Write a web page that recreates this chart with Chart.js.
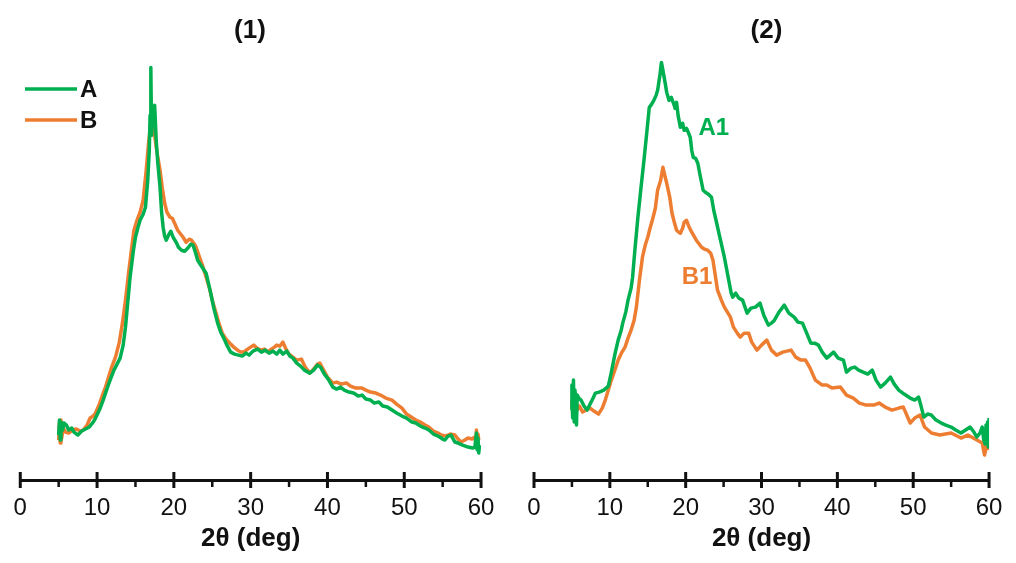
<!DOCTYPE html>
<html><head><meta charset="utf-8">
<script src="https://cdn.jsdelivr.net/npm/chart.js@4/dist/chart.umd.min.js"></script>
<style>
html,body{margin:0;padding:0;background:#fff;}
#wrap{position:relative;width:1016px;height:563px;overflow:hidden;}
canvas{position:absolute;top:0;}
#c1{left:0}#c2{left:508px}
</style></head><body>
<div id="wrap"><canvas id="c1" width="508" height="563"></canvas><canvas id="c2" width="508" height="563"></canvas></div>
<script>
const panelTitles = ['(1)', '(2)'];
const xAxisTitle = '2θ (deg)';
const majorTicks = [0, 10, 20, 30, 40, 50, 60];
const minorTicks = [5, 15, 25, 35, 45, 55];
const seriesNames1 = ['A', 'B'];
const seriesNames2 = ['A1', 'B1'];

// Panel (1) series A
const xA1 = [5.0,5.1,5.2,5.3,5.5,5.7,6.0,6.3,6.7,7.0,7.5,8.0,8.5,9.0,9.5,9.8,10.3,10.8,11.1,11.5,11.9,12.2,12.6,13.0,13.4,13.7,14.0,14.3,14.7,15.0,15.3,15.6,16.0,16.3,16.6,16.8,16.9,17.0,17.1,17.2,17.4,17.5,17.7,17.9,18.2,18.4,18.6,18.8,19.0,19.3,19.6,19.9,20.3,20.6,21.0,21.4,21.8,22.2,22.5,22.8,23.1,23.6,24.2,24.5,24.8,25.2,25.7,26.1,26.5,26.9,27.4,27.9,28.4,28.9,29.4,29.8,30.3,30.9,31.4,31.9,32.4,32.9,33.4,33.8,34.2,34.7,35.1,35.5,36.0,36.5,37.0,37.7,38.2,38.7,39.1,39.6,40.1,40.7,41.2,41.7,42.2,42.8,43.4,44.0,44.5,45.0,45.6,46.1,46.7,47.2,47.8,48.4,49.0,49.7,50.3,51.0,51.5,52.1,52.7,53.2,53.8,54.4,55.0,55.3,55.7,56.1,56.6,57.0,57.6,58.3,58.9,59.2,59.4,59.5,59.6,59.7,59.8];
const yA1 = [45,60,40,58,50,57,55,50,52,48,45,49,51,53,58,62,70,80,87,96,104,110,116,122,135,153,178,203,228,243,252,260,266,273,300,330,365,413,345,360,372,375,340,318,293,268,253,244,240,245,249,243,238,233,230,229,232,236,235,228,220,214,207,197,187,172,157,148,142,135,128,126,125,124,127,125,129,131,128,130,127,129,126,130,126,129,124,122,117,114,110,107,110,115,113,106,101,93,91,93,90,88,87,84,85,81,80,77,78,74,73,70,67,64,62,58,57,54,52,50,46,44,41,40,44,45,38,37,35,33,32,33,47,30,42,27,35];
// Panel (1) series B
const xB1 = [5.0,5.1,5.2,5.3,5.4,5.6,5.9,6.3,6.8,7.3,7.8,8.2,8.7,9.1,9.5,9.8,10.3,10.8,11.1,11.5,11.9,12.4,12.9,13.3,13.7,14.1,14.5,14.8,15.2,15.6,16.0,16.4,16.7,17.0,17.1,17.3,17.5,17.8,18.2,18.5,18.8,19.1,19.5,19.8,20.1,20.5,20.8,21.2,21.6,22.0,22.3,22.6,22.9,23.3,23.8,24.2,24.6,25.0,25.5,25.9,26.3,26.8,27.4,27.8,28.3,28.7,29.1,29.6,30.0,30.4,30.8,31.3,31.8,32.2,32.7,33.1,33.4,33.8,34.2,34.6,35.0,35.5,36.0,36.6,37.1,37.7,38.3,38.7,39.0,39.5,40.0,40.7,41.2,41.8,42.5,43.0,43.7,44.5,45.0,45.6,46.3,46.9,47.6,48.4,49.0,49.7,50.3,50.9,51.5,52.1,52.7,53.2,53.8,54.4,54.8,55.4,56.0,56.6,57.0,57.4,57.9,58.3,58.8,59.2,59.3,59.4,59.5,59.6,59.7];
const yB1 = [40,57,37,60,42,52,48,47,50,51,49,50,55,62,64,67,76,87,93,103,113,123,138,157,180,207,232,250,260,268,280,310,337,357,358,355,345,328,310,292,277,268,263,262,257,250,247,243,238,241,240,237,233,224,213,203,193,180,167,156,147,141,136,133,130,128,128,131,133,135,132,130,131,128,131,133,135,134,138,131,126,123,120,121,113,107,112,116,117,110,103,97,98,96,97,94,92,92,90,88,87,85,82,80,76,72,66,63,60,58,55,53,49,47,45,44,46,45,41,38,40,42,41,43,38,50,36,46,40];
// Panel (2) series A1
const xA2 = [4.9,5.0,5.1,5.2,5.3,5.4,5.5,5.6,5.7,5.9,6.2,6.6,7.0,7.4,7.8,8.1,8.6,9.2,9.5,9.8,10.2,10.7,11.1,11.5,11.7,12.1,12.4,12.8,13.0,13.3,13.7,14.1,14.5,14.9,15.2,15.5,15.8,16.1,16.3,16.6,16.8,17.0,17.3,17.5,17.8,18.1,18.4,18.6,18.8,19.0,19.3,19.6,19.8,20.1,20.4,20.6,20.8,21.0,21.3,21.6,21.9,22.3,22.6,23.0,23.4,23.7,24.0,24.5,25.1,25.6,26.0,26.2,26.6,27.0,27.5,28.1,28.6,29.2,29.8,30.3,30.9,31.3,31.7,32.3,33.0,33.6,34.3,34.8,35.4,35.9,36.5,37.0,37.5,38.0,38.6,39.5,40.1,40.8,41.2,41.8,42.3,42.8,43.4,44.0,44.6,45.1,45.7,46.3,47.0,47.5,48.1,48.8,49.6,50.2,50.7,51.0,51.4,51.9,52.4,53.0,53.7,54.3,55.0,55.6,56.3,56.9,57.5,58.0,58.4,58.8,59.1,59.3,59.5,59.6,59.7,59.8,59.9,60.0];
const yA2 = [70,95,62,100,58,90,80,55,85,82,80,74,70,76,82,87,88,90,92,94,108,127,140,150,157,168,180,192,203,230,263,292,320,350,373,376,380,385,390,405,418,410,397,388,380,383,377,372,378,365,353,357,350,352,347,343,330,323,322,317,305,290,288,286,283,270,260,243,223,203,187,183,187,182,180,167,172,173,177,165,155,157,160,168,175,167,163,158,157,148,137,137,135,128,122,128,122,120,108,112,113,110,108,106,110,100,93,97,103,96,90,86,82,80,83,75,63,66,65,60,57,55,53,50,47,50,53,48,43,47,53,40,36,55,38,58,33,62];
// Panel (2) series B1
const xB2 = [4.9,5.0,5.1,5.3,5.4,5.5,5.7,6.0,6.4,6.9,7.4,7.9,8.5,9.0,9.4,9.8,10.2,10.7,11.1,11.6,12.0,12.4,12.8,13.2,13.5,13.9,14.3,14.7,15.0,15.3,15.6,16.0,16.3,16.7,17.0,17.3,17.5,17.9,18.2,18.5,18.8,19.1,19.3,19.6,19.8,20.1,20.4,20.8,21.1,21.4,21.8,22.1,22.5,22.9,23.3,23.6,23.9,24.2,24.7,25.1,25.5,25.9,26.3,26.8,27.2,27.7,28.3,28.7,29.4,30.0,30.7,31.3,32.0,32.8,33.9,34.5,35.2,35.8,36.4,37.1,38.0,38.6,39.3,40.4,41.2,42.1,42.9,43.8,44.8,45.5,46.3,47.2,48.1,48.7,49.6,50.2,50.9,51.5,52.4,53.5,55.0,56.3,57.2,58.4,59.1,59.4,59.6,59.8,60.0];
const yB2 = [73,80,66,87,68,82,70,74,68,70,72,69,66,72,80,90,100,111,120,128,133,142,150,160,173,200,223,236,243,252,260,272,290,300,313,303,297,283,267,258,250,248,247,252,258,260,254,248,244,240,236,233,231,230,227,220,205,190,180,173,168,163,153,147,143,147,147,138,130,135,140,130,125,128,130,123,120,120,112,100,95,95,92,93,85,82,77,75,75,77,73,70,72,73,57,62,65,53,47,45,47,42,45,40,37,25,32,38,30];

const GREEN = '#00B050';
const ORANGE = '#ED7D31';
const FONT = '"Liberation Sans", Arial, Helvetica, sans-serif';

// anchors (data space) for the in-plot series labels of panel (2)
const labelAnchors2 = [
  { text: seriesNames2[0], x: 23.7, y: 352, color: GREEN },
  { text: seriesNames2[1], x: 21.5, y: 203, color: ORANGE }
];

function pts(xs, ys) { return xs.map((x, i) => ({ x: x, y: ys[i] })); }

const tickPlugin = {
  id: 'axisTicks',
  afterDraw(chart) {
    const sc = chart.scales.x;
    const ctx = chart.ctx;
    const y0 = sc.top;
    ctx.save();
    ctx.strokeStyle = '#111';
    ctx.lineCap = 'butt';
    majorTicks.forEach(v => {
      const px = sc.getPixelForValue(v);
      ctx.lineWidth = 3;
      ctx.beginPath(); ctx.moveTo(px, y0 - 8); ctx.lineTo(px, y0 + 8); ctx.stroke();
    });
    minorTicks.forEach(v => {
      const px = sc.getPixelForValue(v);
      ctx.lineWidth = 2.5;
      ctx.beginPath(); ctx.moveTo(px, y0); ctx.lineTo(px, y0 + 7); ctx.stroke();
    });
    ctx.restore();
  }
};

const labelPlugin = {
  id: 'seriesLabels',
  afterDatasetsDraw(chart, args, opts) {
    if (!opts || !opts.items) return;
    const ctx = chart.ctx;
    ctx.save();
    ctx.font = 'bold 24px ' + FONT;
    ctx.textAlign = 'center';
    ctx.textBaseline = 'middle';
    opts.items.forEach(it => {
      ctx.fillStyle = it.color;
      ctx.fillText(it.text, chart.scales.x.getPixelForValue(it.x), chart.scales.y.getPixelForValue(it.y));
    });
    ctx.restore();
  }
};

// key drawn in the upper-left corner of panel (1)
const keyPlugin = {
  id: 'lineKey',
  afterDraw(chart, args, opts) {
    if (!opts || !opts.show) return;
    const ctx = chart.ctx;
    ctx.save();
    ctx.font = 'bold 24px ' + FONT;
    ctx.textBaseline = 'middle';
    ctx.textAlign = 'left';
    chart.data.datasets.forEach((ds, i) => {
      const y = opts.top + i * opts.gap;
      ctx.strokeStyle = ds.borderColor;
      ctx.lineWidth = 3.5;
      ctx.beginPath(); ctx.moveTo(opts.left, y); ctx.lineTo(opts.left + opts.len, y); ctx.stroke();
      ctx.fillStyle = '#111';
      ctx.fillText(ds.label, opts.left + opts.len + 3, y + 1);
    });
    ctx.restore();
  }
};

function makeChart(id, title, datasets, padLeft, padRight, showKey, labelItems) {
  return new Chart(document.getElementById(id), {
    type: 'line',
    data: { datasets: datasets },
    plugins: [tickPlugin, labelPlugin, keyPlugin],
    options: {
      responsive: false,
      devicePixelRatio: 1,
      animation: false,
      events: [],
      layout: { padding: { left: padLeft, right: padRight, top: 0, bottom: 21 } },
      elements: { point: { radius: 0 }, line: { tension: 0, borderWidth: 3.5, borderJoinStyle: 'round' } },
      plugins: {
        tooltip: { enabled: false },
        legend: { display: false },
        seriesLabels: { items: labelItems },
        lineKey: { show: showKey, left: 25, top: 89, gap: 31, len: 52 },
        title: {
          display: true, text: title, color: '#111',
          font: { family: FONT, size: 26, weight: 'bold', lineHeight: 1.2 },
          padding: { top: 15.2, bottom: 0 }
        }
      },
      scales: {
        x: {
          type: 'linear', min: 0, max: 60,
          afterBuildTicks: (sc) => { sc.ticks = majorTicks.map(v => ({ value: v })); },
          grid: { display: false, drawTicks: false },
          border: { display: true, color: '#111', width: 3 },
          ticks: {
            color: '#111', padding: 13.6, maxRotation: 0, autoSkip: false,
            font: { family: FONT, size: 24, lineHeight: 1.2 }
          },
          title: {
            display: true, text: xAxisTitle, color: '#111',
            font: { family: FONT, size: 26, weight: 'bold', lineHeight: '6px' },
            padding: { top: 0, bottom: 0 }
          }
        },
        y: { display: false, min: 0, max: 434 }
      }
    }
  });
}

makeChart('c1', panelTitles[0], [
  { label: seriesNames1[0], data: pts(xA1, yA1), borderColor: GREEN, backgroundColor: GREEN, borderWidth: 3.5, pointRadius: 0 },
  { label: seriesNames1[1], data: pts(xB1, yB1), borderColor: ORANGE, backgroundColor: ORANGE, borderWidth: 3.5, pointRadius: 0 }
], 17, 25, true, []);

makeChart('c2', panelTitles[1], [
  { label: seriesNames2[0], data: pts(xA2, yA2), borderColor: GREEN, backgroundColor: GREEN, borderWidth: 3.5, pointRadius: 0 },
  { label: seriesNames2[1], data: pts(xB2, yB2), borderColor: ORANGE, backgroundColor: ORANGE, borderWidth: 3.5, pointRadius: 0 }
], 26, 17, false, labelAnchors2);
</script>
</body></html>
